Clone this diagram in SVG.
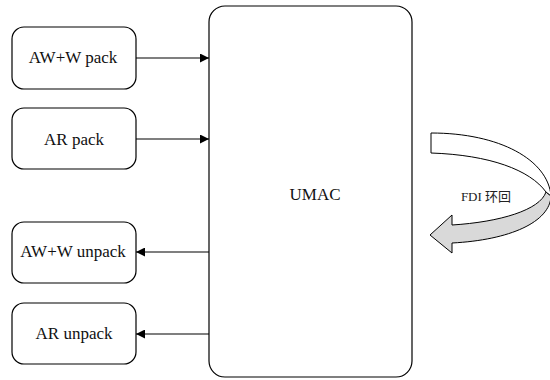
<svg xmlns="http://www.w3.org/2000/svg" width="550" height="380" viewBox="0 0 550 380">
<style>
.box{fill:#fff;stroke:#000;stroke-width:1.2}
.lbl{font-family:"Liberation Serif","Times New Roman",serif;font-size:17px;fill:#111;text-anchor:middle}
.cn{font-family:"Liberation Serif","Noto Sans CJK SC",serif;font-size:13px;fill:#222;text-anchor:middle}
.conn{stroke:#000;stroke-width:1.2;fill:none}
</style>
<defs>
<marker id="ah" viewBox="0 0 10 10" refX="10" refY="5" markerWidth="10" markerHeight="9" markerUnits="userSpaceOnUse" orient="auto">
<path d="M0,0 L10,5 L0,10 Z" fill="#000"/>
</marker>
</defs>
<rect width="550" height="380" fill="#fff"/>
<g id="umac">
<rect class="box" x="209" y="6" width="203" height="371" rx="16"/>
<text class="lbl" x="315" y="200">UMAC</text>
</g>
<g id="awwpack">
<rect class="box" x="12" y="27" width="124" height="62" rx="12"/>
<text class="lbl" x="73" y="63">AW+W pack</text>
</g>
<g id="arpack">
<rect class="box" x="12" y="108" width="124" height="61" rx="12"/>
<text class="lbl" x="74" y="145">AR pack</text>
</g>
<g id="awwunpack">
<rect class="box" x="12" y="222" width="124" height="61" rx="12"/>
<text class="lbl" x="73" y="257">AW+W unpack</text>
</g>
<g id="arunpack">
<rect class="box" x="12" y="303" width="124" height="61" rx="12"/>
<text class="lbl" x="74" y="339">AR unpack</text>
</g>
<g id="connectors">
<line class="conn" x1="136" y1="58" x2="209" y2="58" marker-end="url(#ah)"/>
<line class="conn" x1="136" y1="139" x2="209" y2="139" marker-end="url(#ah)"/>
<line class="conn" x1="209" y1="252" x2="136" y2="252" marker-end="url(#ah)"/>
<line class="conn" x1="209" y1="334" x2="136" y2="334" marker-end="url(#ah)"/>
</g>
<g id="fdi-loop">
<path d="M546,192 C540,210 500,222 452,225 L452,215 L430,235 L452,253 L452,243 C510,240 550,222 551,196 Z" fill="#d9d9d9" stroke="#000" stroke-width="1"/>
<path d="M431,133 C500,133 548,160 551,196 C549,194 547,193 546,192 C530,170 490,155 431,153 Z" fill="#fff" stroke="#000" stroke-width="1"/>
<text class="cn" x="486" y="201">FDI 环回</text>
</g>
</svg>
